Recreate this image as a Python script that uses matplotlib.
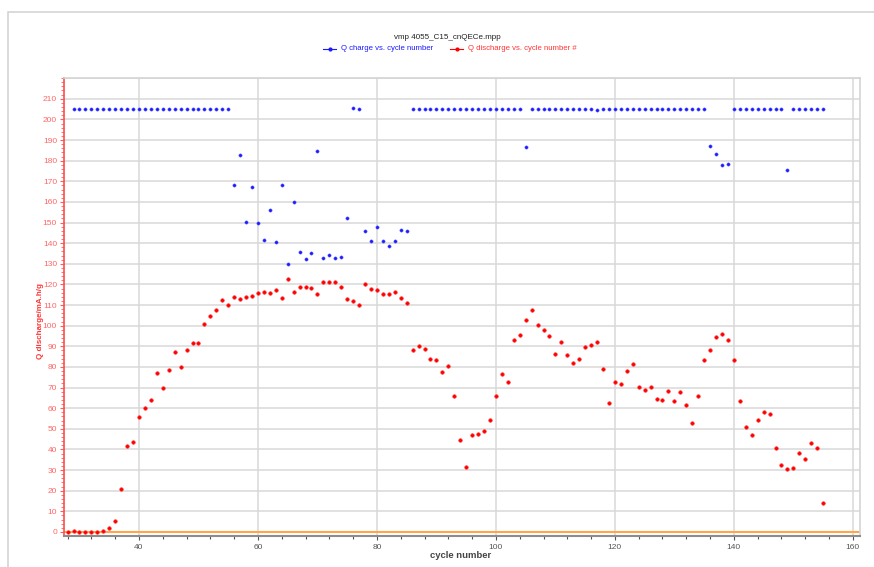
import matplotlib
matplotlib.use("Agg")
import matplotlib.pyplot as plt
from matplotlib.patches import Rectangle
from matplotlib.ticker import MultipleLocator, FixedLocator

plt.rcParams["font.family"] = ["Liberation Sans", "DejaVu Sans"]

# Q charge (mA.h/g) per cycle, cycles 29..155
charge_cycles = list(range(29, 156))
charge = (
    [205.0] * 27  # 29-55
    + [168.4, 182.7, 150.5, 167.2, 149.8, 141.7, 156.3, 140.7, 168.2, 129.7,  # 56-65
       159.8, 135.7, 132.3, 135.4, 184.5, 132.9, 134.1, 132.9, 133.2, 152.3,  # 66-75
       205.4, 205.0, 145.9, 141.0, 147.6, 140.9, 138.8, 141.0, 146.4, 146.1]  # 76-85
    + [205.0] * 19  # 86-104
    + [186.7]  # 105
    + [205.0] * 11  # 106-116
    + [204.5]  # 117
    + [205.0] * 18  # 118-135
    + [187.0, 183.3, 178.0, 178.3]  # 136-139
    + [205.0] * 9  # 140-148
    + [175.4]  # 149
    + [205.0] * 6  # 150-155
)

# Q discharge (mA.h/g) per cycle, cycles 28..155
discharge_cycles = list(range(28, 156))
discharge = [
    0.0, 0.3, 0.0, 0.0, 0.0, 0.0, 0.3, 1.9, 5.3, 21.0,            # 28-37
    41.7, 43.7, 55.7, 60.2, 64.2, 77.3, 69.6, 78.3, 87.1, 80.1,   # 38-47
    88.2, 91.7, 91.7, 100.6, 104.7, 107.6, 112.3, 109.8, 113.9, 112.8,  # 48-57
    113.9, 114.2, 116.0, 116.3, 115.9, 117.3, 113.6, 122.4, 116.3, 118.6,  # 58-67
    118.9, 118.3, 115.5, 121.4, 121.1, 121.1, 118.9, 113.1, 112.0, 110.2,  # 68-77
    120.4, 117.6, 117.3, 115.5, 115.5, 116.3, 113.6, 111.1, 88.2, 90.3,   # 78-87
    88.5, 83.8, 83.5, 77.5, 80.7, 65.7, 44.8, 31.4, 47.2, 47.6,           # 88-97
    48.9, 54.5, 65.7, 76.4, 72.5, 92.9, 95.3, 102.8, 107.4, 100.5,        # 98-107
    98.1, 95.0, 86.2, 91.9, 85.9, 81.9, 83.8, 89.8, 90.6, 92.2,           # 108-117
    79.1, 62.3, 72.5, 71.7, 77.8, 81.4, 70.1, 68.8, 70.1, 64.6,           # 118-127
    63.8, 68.3, 63.4, 68.0, 61.7, 52.6, 66.0, 83.2, 88.2, 94.5,           # 128-137
    96.0, 92.9, 83.3, 63.6, 50.8, 46.8, 54.2, 58.3, 57.0, 40.5,           # 138-147
    32.4, 30.3, 31.1, 38.5, 35.4, 43.2, 40.5, 14.2,                       # 148-155
]

y_ticks = list(range(0, 211, 10))

fig = plt.figure(figsize=(8.74, 5.67), dpi=100)
fig.patch.set_facecolor("white")
W, H = 874, 567

# light outer frame
fig.patches.append(Rectangle((8 / W, -0.05), 1.2, 1 - 12 / H + 0.05,
                             transform=fig.transFigure, fill=False,
                             edgecolor="#d4d4d4", linewidth=1.2))

ax = fig.add_axes([64 / W, 1 - 535.5 / H, (860 - 64) / W, (535.5 - 77.5) / H])
ax.set_xlim(27.4, 161.2)
ax.set_ylim(-1.7, 220.3)

ax.xaxis.set_major_locator(MultipleLocator(20))
ax.xaxis.set_minor_locator(MultipleLocator(4))
ax.yaxis.set_major_locator(FixedLocator(y_ticks))
ax.yaxis.set_minor_locator(MultipleLocator(2))

ax.grid(which="major", color="#d9d9d9", linewidth=1.1)
ax.axhline(220, color="#d9d9d9", linewidth=1.1, zorder=0.5)
ax.set_axisbelow(True)

ax.axhline(0, color="#ffa64d", linewidth=1.5, zorder=1.5)

ax.plot(charge_cycles, charge, linestyle="none", marker="o", ms=2.3,
        color="#1a1aff", mec="#4d4dff", mew=0.4, zorder=3)
ax.plot(discharge_cycles, discharge, linestyle="none", marker="o", ms=2.6,
        color="#ff0000", mec="#ff3333", mew=0.4, zorder=3)

for s in ("top", "right"):
    ax.spines[s].set_color("#d4d4d4")
    ax.spines[s].set_linewidth(1.2)
ax.spines["left"].set_color("#ff4d4d")
ax.spines["left"].set_linewidth(1.2)
ax.spines["bottom"].set_color("#8c8c8c")
ax.spines["bottom"].set_linewidth(1.5)

ax.tick_params(axis="y", which="major", colors="#ff5c5c", labelcolor="#ff6666",
               labelsize=6, length=3, width=0.8, pad=2)
ax.tick_params(axis="y", which="minor", colors="#ff5c5c", length=2, width=0.6)
ax.tick_params(axis="x", which="major", colors="#555555", labelcolor="#555555",
               labelsize=6, length=3, width=0.8, pad=3)
ax.tick_params(axis="x", which="minor", colors="#555555", length=2, width=0.8)

fig.text(40 / W, 1 - 321 / H, "Q discharge/mA.h/g", rotation=90, color="#ff3333",
         fontsize=5.8, fontweight="bold", ha="center", va="center")
fig.text(461 / W, 1 - 555 / H, "cycle number",
         color="#444444", fontsize=6.8, fontweight="bold", ha="center", va="center")

fig.text(447 / W, 1 - 37.5 / H, "vmp 4055_C15_cnQECe.mpp", color="#222222",
         fontsize=5.8, ha="center", va="center")

# legend row
ly = 1 - 49 / H
fig.lines.append(plt.Line2D([323 / W, 336 / W], [ly, ly], transform=fig.transFigure,
                            color="#1a1aff", linewidth=0.8))
fig.lines.append(plt.Line2D([329.5 / W], [ly], transform=fig.transFigure,
                            color="#1a1aff", marker="o", ms=2.0, linestyle="none"))
fig.text(341 / W, ly, "Q charge vs. cycle number", color="#1a1aff", fontsize=5.6,
         ha="left", va="center")
fig.lines.append(plt.Line2D([450 / W, 463 / W], [ly, ly], transform=fig.transFigure,
                            color="#ff0000", linewidth=0.8))
fig.lines.append(plt.Line2D([456.5 / W], [ly], transform=fig.transFigure,
                            color="#ff0000", marker="o", ms=2.0, linestyle="none"))
fig.text(468 / W, ly, "Q discharge vs. cycle number #", color="#ff3333", fontsize=5.6,
         ha="left", va="center")

fig.savefig("out.png", dpi=100)
